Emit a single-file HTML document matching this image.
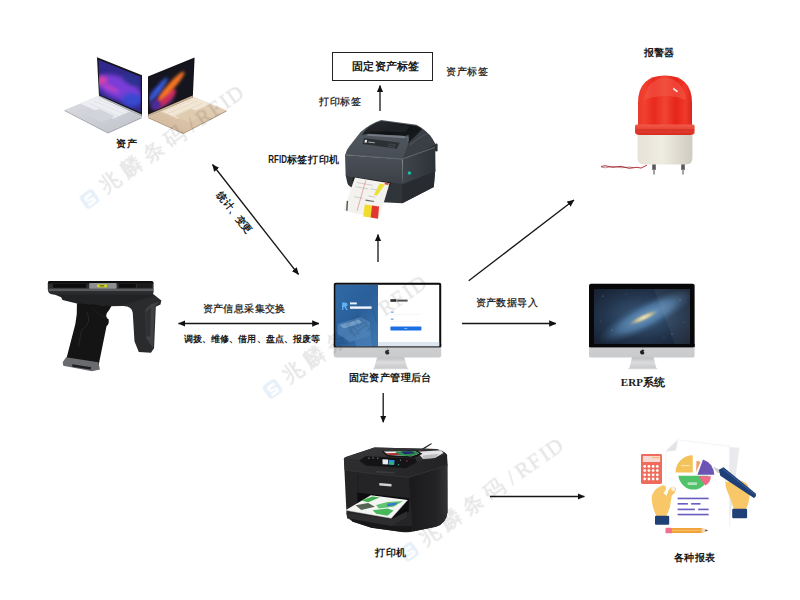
<!DOCTYPE html>
<html><head><meta charset="utf-8">
<style>
html,body{margin:0;padding:0;background:#fff;}
body{width:800px;height:600px;overflow:hidden;font-family:"Liberation Sans",sans-serif;}
svg{display:block;}
text{font-family:"Liberation Sans",sans-serif;fill:#1a1a1a;}
.b{font-weight:bold;}
.r{stroke:#1a1a1a;stroke-width:.25px;}
.wm{font-family:"Liberation Serif",serif;fill:#808080;stroke:#808080;stroke-width:.45px;opacity:.2;font-size:21px;}
</style></head><body>
<svg width="800" height="600" viewBox="0 0 800 600">
<defs>
<marker id="ah" markerWidth="7.2" markerHeight="6.4" refX="6.8" refY="3.2" orient="auto-start-reverse" markerUnits="userSpaceOnUse"><path d="M0,0 L7.2,3.2 L0,6.4 Z" fill="#111"/></marker>
</defs>
<rect width="800" height="600" fill="#fff"/>

<!-- WATERMARKS -->


<!-- ARROWS -->
<g stroke="#151515" stroke-width="1.3" fill="none">
<line x1="212.5" y1="164.5" x2="298.5" y2="274.5" marker-start="url(#ah)" marker-end="url(#ah)"/>
<line x1="178.5" y1="323.5" x2="319" y2="323.5" marker-start="url(#ah)" marker-end="url(#ah)"/>
<line x1="380" y1="111" x2="380" y2="85.5" marker-end="url(#ah)"/>
<line x1="378" y1="262" x2="378" y2="234.5" marker-end="url(#ah)"/>
<line x1="468.7" y1="280.8" x2="574" y2="200" marker-end="url(#ah)"/>
<line x1="462" y1="323.5" x2="556" y2="323.5" marker-end="url(#ah)"/>
<line x1="383.2" y1="393" x2="383.2" y2="422.3" marker-end="url(#ah)"/>
<line x1="490" y1="496.5" x2="584.4" y2="496.5" marker-end="url(#ah)"/>
</g>

<!-- LABEL BOX -->
<rect x="332.5" y="52.5" width="100" height="28" fill="#fff" stroke="#222" stroke-width="1"/>

<!-- TEXT -->
<g font-size="10.4px">
<text class="b" x="115.9" y="147.3" textLength="20.8">资产</text>
<text class="b" x="352.1" y="70.2" font-size="11.2px" textLength="67">固定资产标签</text>
<text class="r" x="445.9" y="75.2" textLength="42">资产标签</text>
<text class="r" x="319.2" y="104.7" textLength="41.3">打印标签</text>
<text class="b" x="268.3" y="163.2"><tspan textLength="18.6" lengthAdjust="spacingAndGlyphs">RFID</tspan><tspan textLength="52.2">标签打印机</tspan></text>
<text class="b" x="644.2" y="55.5" font-size="10px" textLength="30.2">报警器</text>
<text class="r" x="202.6" y="311.9" textLength="82.8">资产信息采集交换</text>
<text class="b" x="183.6" y="342" font-size="9.1px" textLength="136.7">调拨、维修、借用、盘点、报废等</text>
<text class="r" x="475.5" y="306.2" textLength="62.1">资产数据导入</text>
<text class="b" x="348.6" y="380.8" textLength="82.8">固定资产管理后台</text>
<text class="b" x="620.8" y="385.6" font-size="11px" textLength="44.5" style="font-family:'Liberation Serif',serif">ERP系统</text>
<text class="b" x="375.2" y="555.6" font-size="10.2px" textLength="30.8">打印机</text>
<text class="b" x="673.6" y="560.6" textLength="41.8">各种报表</text>
<text class="b" transform="translate(234.5,212.5) rotate(52)" text-anchor="middle" y="3.5" font-size="10px">统计、变更</text>
</g>

<!-- LAPTOPS -->
<g id="laptops">
<defs>
<linearGradient id="silv" x1="0" y1="0" x2="1" y2="1"><stop offset="0" stop-color="#dddee4"/><stop offset="1" stop-color="#bfc1c9"/></linearGradient>
<linearGradient id="gold" x1="1" y1="0" x2="0" y2="1"><stop offset="0" stop-color="#e8d6be"/><stop offset="1" stop-color="#cfb597"/></linearGradient>
<clipPath id="ls1"><polygon points="98.6,59.8 140.7,76.8 140.7,112.6 99.4,94.6"/></clipPath>
<clipPath id="ls2"><polygon points="193.2,59.6 149.2,77.6 149.2,113 192.4,94.6"/></clipPath>
<filter id="bl2" x="-50%" y="-50%" width="200%" height="200%"><feGaussianBlur stdDeviation="2.2"/></filter>
<filter id="bl3" x="-50%" y="-50%" width="200%" height="200%"><feGaussianBlur stdDeviation="1.6"/></filter>
</defs>
<!-- left silver -->
<polygon points="97.7,96.3 64.5,110 108,132.3 141.8,117" fill="url(#silv)"/>
<polygon points="64.5,110 108,132.3 141.8,117 141.8,118.3 108,133.6 64.5,111" fill="#a4a6ae"/>
<polygon points="80,103.6 99,96 133,110 113,118.8" fill="#eceef2"/>
<g stroke="#d4d6dc" stroke-width=".5"><line x1="84" y1="105.4" x2="117" y2="120"/><line x1="89" y1="103.2" x2="122" y2="117.6"/><line x1="94" y1="101" x2="127" y2="115.2"/><line x1="98" y1="99" x2="131" y2="113"/></g>
<polygon points="86,114.4 99,108.8 115,116.2 102,122.2" fill="#d2d4db"/>
<polygon points="97,57.2 142,75.2 142,116.6 99,96.5" fill="#15151c"/>
<g clip-path="url(#ls1)">
<rect x="95" y="55" width="50" height="60" fill="#30288a"/>
<ellipse cx="119" cy="88" rx="24" ry="11" fill="#7a3cd8" filter="url(#bl2)" transform="rotate(22 119 87)"/>
<ellipse cx="102" cy="80.5" rx="5" ry="4.5" fill="#e040a0" filter="url(#bl2)"/>
<ellipse cx="111" cy="88" rx="9" ry="3" fill="#b040c8" filter="url(#bl3)" transform="rotate(24 110 88)"/>
<ellipse cx="132" cy="100" rx="10" ry="7" fill="#3848d0" filter="url(#bl2)"/>
<ellipse cx="132" cy="80" rx="9" ry="5" fill="#2c3090" filter="url(#bl2)" transform="rotate(22 132 80)"/>
</g>
<polygon points="99.1,95.4 141.8,114.4 141.8,116.6 99,96.8" fill="#b4b6be"/>
<!-- right gold -->
<polygon points="193.2,96.8 226.5,110.3 183.3,132.8 148.2,117" fill="url(#gold)"/>
<polygon points="226.5,110.3 183.3,132.8 148.2,117 148.2,118.3 183.3,134.1 226.5,111.4" fill="#b39a7c"/>
<polygon points="192,96.8 211,104 178,118.8 158,110" fill="#f2e6d5"/>
<g stroke="#dfccb2" stroke-width=".5"><line x1="207" y1="105.6" x2="174" y2="120"/><line x1="202" y1="103.4" x2="169" y2="117.6"/><line x1="197" y1="101.2" x2="164" y2="115.2"/><line x1="193" y1="99.2" x2="160" y2="113"/></g>
<polygon points="191,108.8 205,114.4 189,122.2 175,116.2" fill="#dfcbb0"/>
<polygon points="194.6,57.6 148,76.4 148,116.6 192.8,97.2" fill="#121218"/>
<g clip-path="url(#ls2)">
<rect x="146" y="55" width="50" height="62" fill="#15151f"/>
<ellipse cx="160" cy="100" rx="14" ry="12" fill="#2a2250" filter="url(#bl2)"/>
<ellipse cx="158" cy="90" rx="3" ry="15" fill="#3458d8" filter="url(#bl3)" transform="rotate(38 158.5 90)"/>
<ellipse cx="165" cy="99" rx="5" ry="14" fill="#c82c60" filter="url(#bl3)" transform="rotate(48 165 99)"/>
<ellipse cx="156" cy="105" rx="5" ry="5" fill="#4a2c98" filter="url(#bl3)"/>
<ellipse cx="171" cy="85" rx="3.4" ry="19" fill="#f87424" filter="url(#bl3)" transform="rotate(42 170 86)"/>
</g>
<polygon points="192.6,95.4 148.2,114.6 148.2,116.8 192.8,97.4" fill="#c4ad90"/>
</g>
<!-- RFID PRINTER -->
<g id="rfidprinter">
<defs>
<linearGradient id="rp1" x1="0" y1="0" x2="0" y2="1"><stop offset="0" stop-color="#4b5158"/><stop offset="1" stop-color="#3a4046"/></linearGradient>
<linearGradient id="rp2" x1="0" y1="0" x2="1" y2="1"><stop offset="0" stop-color="#34383d"/><stop offset=".45" stop-color="#0f1113"/><stop offset="1" stop-color="#1d2023"/></linearGradient>
<linearGradient id="rp3" x1="0" y1="0" x2="1" y2="0"><stop offset="0" stop-color="#3f454b"/><stop offset="1" stop-color="#2d3237"/></linearGradient>
<linearGradient id="rp4" x1="0" y1="0" x2="0" y2="1"><stop offset="0" stop-color="#555b62"/><stop offset="1" stop-color="#474d54"/></linearGradient>
</defs>
<!-- hinge nub -->
<rect x="435" y="143.5" width="2.6" height="8" rx="1.2" fill="#2a2e32"/>
<!-- base -->
<path d="M345.7,175.4 L347.4,183.2 Q348.5,186.7 355.6,188.9 L382.5,202.3 L402.3,203.2 L433.8,187.0 L435.2,170.5 L402.3,182.5 Z" fill="#30353a"/>
<path d="M402.3,182.5 L435.2,170.5 L433.8,187.0 L402.3,203.2 Z" fill="#282c30"/>
<!-- upper shell right side -->
<path d="M402.5,159.4 L408.1,143.1 L421.9,129.0 Q430.0,132.5 435.2,144.0 L435.5,171.2 L402.3,184.2 Z" fill="url(#rp3)"/>
<!-- shell top (around lid) -->
<path d="M345.2,154.8 Q346.2,150.0 349.4,146.2 L360.6,131.9 Q370.0,123.8 381.2,120.0 L416.5,124.8 Q427.5,130.0 435.2,144.0 L402.5,159.4 Z" fill="url(#rp4)"/>
<!-- front face -->
<path d="M345.0,154.9 L402.3,159.3 L402.6,184.2 L345.7,176.1 Z" fill="url(#rp1)"/>
<path d="M415.6,125.2 Q427.5,130.0 435.2,144.0 L402.5,159.4 L408.5,143.2 L421.9,129.4 Z" fill="#3a3f45"/>
<path d="M410.0,145.0 Q420.0,136.2 427.5,133.8" fill="none" stroke="#4c5259" stroke-width="1.2"/>
<!-- ridge highlight -->
<path d="M345.1,154.7 L402.3,159.1 L434.9,147.4" fill="none" stroke="#626870" stroke-width="1"/>
<!-- black lid -->
<path d="M362.2,134.8 Q366.9,127.5 371.5,125.2 Q376.2,121.9 381.5,121.0 L415.6,125.8 Q420.0,127.2 421.9,129.4 L408.5,143.2 L405.0,136.0 L368.5,133.8 Z" fill="url(#rp2)"/>
<path d="M372.8,125.5 Q377.5,122.8 381.9,122.0 L410.0,126.0 L405.0,132.5 L370.0,131.0 Z" fill="#24272b" opacity=".7"/>
<!-- window highlight strip -->
<path d="M367.8,134.0 L405.0,136.0 L406.0,138.2 L367.0,135.8 Z" fill="#767c83"/>
<path d="M405.2,136.0 L408.5,135.0 L409.0,140.6 L407.8,142.8 Z" fill="#5c6168"/>
<!-- label sticker -->
<path d="M364.0,138.1 L399.8,142.8 L396.9,148.8 L362.5,144.0 Z" fill="#2b3035"/>
<path d="M365.0,139.8 l2.2,0.3 l-.6,2.6 l-2.2,-.3z" fill="#e8eaec"/>
<path d="M368.5,141.5 l6.5,.9 l-.1,.9 l-6.5,-.9z" fill="#b8bcc0"/>
<path d="M389.4,144.0 l5.5,.7 l-.8,2.4 l-5.5,-.7z" fill="none" stroke="#5a6068" stroke-width=".5"/>
<!-- LED -->
<circle cx="409.4" cy="173" r="2.3" fill="#2a5a58"/>
<circle cx="409.4" cy="173" r="1.6" fill="#20c4ac"/>
<!-- slot shadow -->
<path d="M353.5,177.1 L391.0,182.5 L389.6,186.7 L352.0,181.1 Z" fill="#16181b"/>
<!-- paper -->
<path d="M354.9,177.5 L389.6,183.2 L379.0,218.6 L343.5,210.8 Z" fill="#f4f2ee"/>
<path d="M379.7,183.6 L385.0,184.5 L377.1,195.5 L373.7,195.0 Z" fill="#ece03a"/>
<path d="M385.0,182.5 L389.0,183.2 L388.2,185.0 L384.5,184.2 Z" fill="#d8483c"/>
<path d="M364.8,204.4 L372.0,205.6 L370.6,217.6 L363.2,216.5 Z" fill="#f0dc2c"/>
<path d="M372.0,205.6 L379.1,206.6 L378.0,218.8 L370.6,217.6 Z" fill="#e0382f"/>
<g fill="none" stroke-width=".5">
<path d="M365.8,180.4 L357.0,210.8" stroke="#d46060"/>
<path d="M357.0,182.5 L372.6,185.3 M355.6,186.7 L368.3,189.0 M370.5,188.9 L376.8,189.9 M354.2,196.7 L362.7,198.4 M368.3,195.9 L375.4,197.2" stroke="#a8a8a8"/>
<path d="M347.4,200.9 L346.8,210.8" stroke="#555" stroke-width="1.4"/>
<path d="M365.5,200.1 L374.0,201.5" stroke="#666" stroke-width="1.2"/>
</g>
</g>
<!-- ALARM -->
<g id="alarm">
<defs>
<linearGradient id="al1" x1="0" y1="0" x2="1" y2="0"><stop offset="0" stop-color="#e83a2c"/><stop offset=".12" stop-color="#f2402f"/><stop offset=".3" stop-color="#e82a1e"/><stop offset=".5" stop-color="#f04434"/><stop offset=".7" stop-color="#e62518"/><stop offset=".88" stop-color="#f0392b"/><stop offset="1" stop-color="#d8261c"/></linearGradient>
<linearGradient id="al2" x1="0" y1="0" x2="1" y2="0"><stop offset="0" stop-color="#e6e2d6"/><stop offset=".45" stop-color="#efece2"/><stop offset="1" stop-color="#cfcbc0"/></linearGradient>
<linearGradient id="al3" x1="0" y1="0" x2="0" y2="1"><stop offset="0" stop-color="#f25a48"/><stop offset="1" stop-color="#d82a20"/></linearGradient>
</defs>
<path d="M601,166.5 q4,-1.5 8,0 t8,0.3 t8,0.5 t8,0.5 t8,0.3 l6,-3" fill="none" stroke="#b8323a" stroke-width="1"/>
<path d="M601.5,167.3 q4,1 8,-0.3 t8,0 t8,0.4 t8,0.3" fill="none" stroke="#7a2a2a" stroke-width=".5"/>
<rect x="652.2" y="162" width="3.6" height="8" fill="#5a5a5a"/><rect x="653.2" y="169" width="1.6" height="5.5" fill="#8a8a8a"/>
<rect x="681.2" y="162" width="3.6" height="8" fill="#5a5a5a"/><rect x="682.2" y="169" width="1.6" height="5.5" fill="#8a8a8a"/>
<path d="M637.6,132 H692.4 V158 Q692.4,164.5 686,164.5 H644 Q637.6,164.5 637.6,158 Z" fill="url(#al2)"/>
<path d="M638,126 V103 Q638,75.4 665,75.4 Q692,75.4 692,103 V126 Z" fill="url(#al1)"/>
<path d="M644,100 Q646,80 665,77.5 Q684,80 686,100 Q665,92 644,100Z" fill="#f45a48" opacity=".55"/>
<path d="M635,126 Q635,124.5 637,124.5 H693 Q694.6,124.5 694.6,126 V132 Q694.6,135 690,135 H640 Q635,135 635,132 Z" fill="url(#al3)"/>
<rect x="636" y="129.5" width="58" height="1" fill="#c02018" opacity=".6"/>
<path d="M673.5,87.5 l4.5,3.5 l-1,1.6 l-4.2,-3.4z" fill="#fff" opacity=".85"/>
</g>
<!-- SCANNER -->
<g id="scanner" transform="translate(40,272) scale(0.17334)">
<!-- arm / antenna -->
<path d="M400,140 L655,128 L700,165 L695,188 L668,200 L658,440 L640,466 L570,462 L545,400 L535,235 Q530,198 480,196 L400,198 Z" fill="#2a2b2d"/>
<path d="M608,215 L640,186 L688,172 L662,202 L652,438 L612,380 Z" fill="#404144"/>
<path d="M612,230 L640,205 L636,370 L614,372 Z" fill="#2f3033"/>
<!-- cradle -->
<path d="M60,120 L650,120 L655,140 L560,165 L520,180 L400,198 L230,186 L130,162 L122,145 Z" fill="#222325"/>
<!-- grip -->
<path d="M213,180 L412,196 Q402,218 386,236 Q374,262 396,272 Q400,300 384,312 L336,548 L148,516 L204,300 Q216,240 213,180 Z" fill="#141415"/>
<path d="M268,228 Q305,290 240,335 L222,430" fill="none" stroke="#2e2e31" stroke-width="4"/>
<path d="M300,205 Q350,260 388,262" fill="none" stroke="#2a2a2d" stroke-width="3"/>
<!-- base plate -->
<path d="M150,492 L336,520 L346,562 L300,573 L134,541 L131,520 Z" fill="#6a6b6e"/>
<path d="M186,532 L296,549 L292,562 L186,546 Z" fill="#1e1e20"/>
<!-- device bar -->
<path d="M58,52 H638 Q655,52 655,68 V118 Q655,130 640,130 H75 Q45,128 45,100 V66 Q45,52 58,52 Z" fill="#2b2c2e"/>
<path d="M58,52 H638 Q655,52 655,66 H45 Q45,52 58,52Z" fill="#0e0e0f"/>
<rect x="50" y="96" width="603" height="14" fill="#5a5b5e"/>
<rect x="75" y="69" width="192" height="22" rx="3" fill="#0c0c0d"/>
<rect x="455" y="69" width="98" height="22" rx="3" fill="#0c0c0d"/>
<rect x="560" y="69" width="85" height="22" fill="#1a1a1c"/>
<rect x="284" y="64" width="158" height="32" rx="4" fill="#8e8f92"/>
<rect x="330" y="72" width="56" height="16" fill="#d6de10"/>
<rect x="345" y="77" width="26" height="6" fill="#4a4a10"/>
</g>
<!-- IMAC CENTER -->
<g id="imac1" transform="translate(310,270) scale(0.2)">
<defs>
<linearGradient id="im1" x1="0" y1="0" x2="0" y2="1"><stop offset="0" stop-color="#e9e9ea"/><stop offset="1" stop-color="#c9cacc"/></linearGradient>
<linearGradient id="im2" x1="0" y1="0" x2="0" y2="1"><stop offset="0" stop-color="#b9babc"/><stop offset=".5" stop-color="#dcdcde"/><stop offset="1" stop-color="#c4c5c7"/></linearGradient>
<linearGradient id="im3" x1="0" y1="0" x2="1" y2="1"><stop offset="0" stop-color="#2f6aa6"/><stop offset=".5" stop-color="#2a5f99"/><stop offset="1" stop-color="#3f78b0"/></linearGradient>
</defs>
<!-- stand -->
<path d="M337,430 H470 L486,490 Q486,495 478,495 H328 Q320,495 321,490 Z" fill="url(#im2)"/>
<rect x="316" y="489" width="176" height="7" rx="3" fill="#d4d5d7"/>
<!-- chin + body -->
<rect x="119" y="64" width="537" height="374" rx="10" fill="url(#im1)"/>
<rect x="119" y="64" width="537" height="322" rx="9" fill="#0d0d0f"/>
<rect x="119" y="370" width="537" height="16" fill="#0d0d0f"/>
<!-- screen -->
<rect x="129" y="74" width="517" height="307" fill="#ffffff"/>
<rect x="129" y="74" width="211" height="307" fill="url(#im3)"/>
<rect x="340" y="360" width="306" height="21" fill="#dde5ee"/>
<!-- blue panel content -->
<path d="M138,270 L250,235 L300,260 L300,330 L200,360 L138,320Z" fill="#5c8fc2" opacity=".55"/>
<path d="M150,275 L245,248 L262,262 L168,292Z" fill="#8fb6dc" opacity=".6"/>
<path d="M215,300 L300,270 L310,381 L230,381Z" fill="#4d82b8" opacity=".6"/>
<path d="M160,162 h16 q12,0 12,11 q0,9 -9,11 l10,16 h-8 l-9,-15 h-5 v15 h-7z" fill="#5fb0f0"/>
<rect x="200" y="162" width="34" height="10" fill="#e8f0f8"/>
<rect x="200" y="182" width="108" height="12" fill="#f2f6fa"/>
<!-- login panel -->
<rect x="402" y="146" width="30" height="13" fill="#2a2a2e"/>
<rect x="436" y="148" width="52" height="10" fill="#555"/>
<rect x="404" y="208" width="14" height="5" fill="#4a8ee0"/>
<rect x="402" y="222" width="155" height="1.5" fill="#e0e3e8"/>
<rect x="404" y="243" width="14" height="5" fill="#4a8ee0"/>
<rect x="402" y="257" width="155" height="1.5" fill="#e0e3e8"/>
<rect x="402" y="283" width="155" height="19" rx="3" fill="#1b6fe3"/>
<rect x="471" y="291" width="16" height="3" fill="#cfe0fa"/>
<!-- apple -->
<path d="M388,400 q6,-3 9,1 q-5,3 -4,8 q1,4 5,5 q-2,7 -7,8 q-3,0 -4,-1 q-2,1 -5,1 q-6,-3 -7,-11 q0,-9 8,-10 q3,0 5,-1z M389,392 q1,5 -4,7 q-1,-5 4,-7z" fill="#2a2a2c"/>
</g>
<!-- IMAC ERP -->
<g id="imac2" transform="translate(560,270) scale(0.2)">
<defs>
<radialGradient id="gx0" cx=".5" cy=".5" r=".75"><stop offset="0" stop-color="#3c5c7e"/><stop offset=".55" stop-color="#22344c"/><stop offset="1" stop-color="#141c2a"/></radialGradient>
<radialGradient id="gx1"><stop offset="0" stop-color="#7aa6cc" stop-opacity=".95"/><stop offset=".55" stop-color="#5684b0" stop-opacity=".7"/><stop offset="1" stop-color="#35587e" stop-opacity="0"/></radialGradient>
<radialGradient id="gx2"><stop offset="0" stop-color="#fff4cc"/><stop offset=".45" stop-color="#e6cf90" stop-opacity=".85"/><stop offset="1" stop-color="#b0a080" stop-opacity="0"/></radialGradient>
<clipPath id="scr2"><rect x="170" y="95" width="480" height="275"/></clipPath>
</defs>
<path d="M361,432 H467 L481,490 Q481,495 474,495 H353 Q346,495 347,490 Z" fill="url(#im2)"/>
<rect x="342" y="489" width="144" height="7" rx="3" fill="#d6d7d9"/>
<rect x="145" y="69" width="528" height="369" rx="11" fill="url(#im1)"/>
<rect x="145" y="69" width="528" height="317" rx="10" fill="#08080a"/>
<rect x="145" y="370" width="528" height="16" fill="#08080a"/>
<rect x="170" y="95" width="480" height="275" fill="url(#gx0)"/>
<g clip-path="url(#scr2)">
<ellipse cx="430" cy="232" rx="265" ry="72" fill="url(#gx1)" transform="rotate(-27 430 232)"/>
<ellipse cx="418" cy="238" rx="80" ry="19" fill="url(#gx2)" opacity=".85" transform="rotate(-25 418 238)"/>
<path d="M470,95 H650 V370 H575 Z" fill="#ffffff" opacity=".05"/>
<g fill="#cfe0f0"><circle cx="215" cy="130" r="2"/><circle cx="260" cy="300" r="2"/><circle cx="560" cy="320" r="2"/><circle cx="600" cy="150" r="2"/><circle cx="330" cy="120" r="1.6"/><circle cx="520" cy="335" r="1.6"/><circle cx="205" cy="255" r="1.6"/><circle cx="620" cy="260" r="1.6"/></g>
</g>
<path d="M413,400 q6,-3 9,1 q-5,3 -4,8 q1,4 5,5 q-2,7 -7,8 q-3,0 -4,-1 q-2,1 -5,1 q-6,-3 -7,-11 q0,-9 8,-10 q3,0 5,-1z M414,392 q1,5 -4,7 q-1,-5 4,-7z" fill="#1c1c1e"/>
</g>
<!-- CANON PRINTER -->
<g id="canon">
<defs>
<linearGradient id="cn1" x1="0" y1="0" x2="1" y2="0"><stop offset="0" stop-color="#2e2e30"/><stop offset="1" stop-color="#232325"/></linearGradient>
<linearGradient id="cn3" x1="0" y1="0" x2="1" y2="0"><stop offset="0" stop-color="#1a1a1c"/><stop offset=".7" stop-color="#232325"/><stop offset="1" stop-color="#333336"/></linearGradient>
<linearGradient id="cn2" x1="0" y1="0" x2="1" y2="1"><stop offset="0" stop-color="#38383b"/><stop offset="1" stop-color="#29292b"/></linearGradient>
</defs>
<!-- ADF support arm -->
<path d="M414.0,453.5 L431.1,443.3 L431.9,444.1 L415.9,454.3Z" fill="#1d1d1f"/>
<!-- silhouette body -->
<path d="M343.9,459.3 Q343.9,457.6 346.2,456.8 L374.4,447.4 L436.3,449.1 Q445.2,451.7 447.0,455.4 L447.5,512.0 Q446.6,523.3 435.9,526.7 L410.2,531.9 Q406.7,532.6 401.5,532.1 L371.4,527.7 L352.5,521.4 Q346.9,518.3 346.5,513.7 Z" fill="#242426"/>
<!-- right side -->
<path d="M408.8,477.4 L447.6,464.8 L447.5,512.0 Q446.6,523.3 435.9,526.7 L412.8,531.6 Z" fill="url(#cn3)"/>
<!-- lid front band -->
<path d="M343.9,458.2 L359.3,460.9 L366.1,465.9 L406.0,468.3 L417.0,462.3 L447.0,454.3 L447.6,465.0 L408.8,477.4 L357.9,471.9 L344.7,469.7 Z" fill="url(#cn1)"/>
<!-- top face -->
<path d="M344.1,457.9 L374.4,447.4 L436.3,449.1 Q444.5,451.3 446.7,454.3 L417.0,462.0 L406.0,468.2 L365.9,465.6 L359.3,460.6 Z" fill="url(#cn2)"/>
<!-- flatbed white paper -->
<path d="M417.0,451.8 L441.1,450.2 L443.4,452.9 L434.9,457.9 L422.8,458.7 Z" fill="#e4e4e6"/>
<path d="M422.5,455.4 L439.0,453.8 L434.9,457.9 L422.8,458.7 Z" fill="#bdbdc0"/>
<!-- ADF tray + paper -->
<path d="M381.3,451.3 L417.0,450.5 L422.5,453.8 L414.3,457.9 L387.5,456.5 Z" fill="#151517"/>
<path d="M383.7,451.6 L415.0,451.0 L419.1,453.5 L411.5,456.2 L388.8,455.1 Z" fill="#eef0ee"/>
<path d="M395.0,451.6 L415.0,451.0 L419.1,453.5 L411.5,456.2 L399.1,455.4 Z" fill="#2f8a50"/>
<path d="M400.5,451.6 L411.5,451.3 L415.0,453.2 L404.6,454.3 Z" fill="#1e2a6a"/>
<path d="M385.4,453.2 L397.8,452.9 L398.9,455.1 L388.8,455.1 Z" fill="#b03030"/>
<!-- control panel -->
<path d="M359.3,460.6 L365.6,456.2 L415.4,458.4 L417.0,462.0 L406.0,468.2 L365.9,465.6 Z" fill="#141416"/>
<path d="M381.3,458.4 L395.7,459.3 L395.0,465.6 L381.8,464.8 Z" fill="#0c0c0e"/>
<path d="M382.4,459.3 L388.1,459.5 L387.9,464.5 L382.6,464.2 Z" fill="#e8ecf0"/>
<path d="M388.7,459.7 L394.7,460.1 L394.2,465.0 L388.4,464.6 Z" fill="#2f8fd0"/>
<path d="M389.5,462.0 L393.9,462.3 L393.6,464.8 L389.2,464.5 Z" fill="#3ab070"/>
<circle cx="406.7" cy="460.9" r=".7" fill="#d04040"/><circle cx="398.5" cy="464.8" r=".7" fill="#30b080"/>
<circle cx="368.9" cy="458.2" r=".6" fill="#9a9a9e"/><circle cx="373.0" cy="457.9" r=".6" fill="#9a9a9e"/><circle cx="377.8" cy="458.2" r=".6" fill="#9a9a9e"/><circle cx="400.5" cy="460.1" r=".6" fill="#9a9a9e"/>
<!-- lid edge highlight -->
<path d="M344.7,469.7 L357.9,471.9 L408.8,477.4 L447.6,465.0" fill="none" stroke="#38383b" stroke-width=".7"/>
<path d="M357.9,471.9 L358.2,495.0" fill="none" stroke="#1a1a1c" stroke-width=".6"/>
<!-- feed handle -->
<path d="M376.0,470.8 L394.3,472.2 L394.2,473.6 L376.3,472.5 Z" fill="#3c3c40"/>
<!-- canon logo -->
<path d="M379.3,482.9 l12.2,1 l0,2.6 l-12.2,-1z" fill="#e6e6e8" opacity=".9"/>
<!-- output slot -->
<path d="M357.4,492.7 L409.3,498.3 L408.5,512.0 L392.7,519.0 L357.4,505.0 Z" fill="#0d0d0f"/>
<!-- paper -->
<path d="M345.5,510.2 L370.9,495.3 L407.6,500.1 L391.3,518.3 Z" fill="#f4f5f3"/>
<path d="M361.2,500.6 L372.6,496.6 L379.6,497.6 L368.2,502.2Z" fill="#3fae4e"/>
<path d="M355.6,505.3 L368.2,502.9 L374.9,506.7 L361.2,509.9Z" fill="#566456"/>
<path d="M376.1,505.0 L387.5,502.0 L403.2,501.1 L393.6,506.7 L378.7,508.5Z" fill="#62c470"/>
<path d="M387.5,503.6 L398.0,502.5 L395.3,505.3 L386.6,506.4Z" fill="#3a78c8"/>
<path d="M372.6,510.2 L387.5,508.5 L393.6,510.6 L387.5,515.8 L376.1,513.7Z" fill="#46b85a"/>
<path d="M345.5,510.2 L391.3,518.3 L407.6,500.1" fill="none" stroke="#c8c8c8" stroke-width=".5"/>
<!-- lower cassette -->
<path d="M346.5,513.0 L391.3,519.3 L407.1,511.3 L407.1,517.2 L391.3,526.0 L347.2,518.6 Z" fill="#2d2d30"/>
<path d="M352.1,521.4 L371.4,527.7 L401.5,531.7 L412.0,531.6 L412.0,526.0 L391.3,526.3 L352.1,519.0Z" fill="#18181a"/>
</g>
<!-- REPORTS -->
<g id="reports" transform="translate(620,430) scale(0.23324)">
<!-- back paper -->
<path d="M262,60 L512,76 L468,412 L240,380 Z" fill="#e9eaec"/>
<!-- front paper -->
<path d="M248,42 L470,70 L470,412 L196,392 L196,92 Z" fill="#ffffff"/>
<path d="M196,392 L196,92 L248,42 L470,70 L470,412" fill="none" stroke="#eceef0" stroke-width="3"/>
<path d="M196,92 L240,88 L248,42 Z" fill="#e2e4e8"/>
<!-- calculator -->
<rect x="90" y="103" width="90" height="128" rx="6" fill="#ef6b5b"/>
<rect x="98" y="111" width="74" height="26" rx="2" fill="#f7d9d3"/>
<rect x="138" y="116" width="30" height="5" fill="#f4b860"/>
<g fill="#fff">
<circle cx="106" cy="156" r="6"/><circle cx="124" cy="156" r="6"/><circle cx="142" cy="156" r="6"/><circle cx="160" cy="156" r="6"/>
<circle cx="106" cy="174" r="6"/><circle cx="124" cy="174" r="6"/><circle cx="142" cy="174" r="6"/><circle cx="160" cy="174" r="6"/>
<circle cx="106" cy="192" r="6"/><circle cx="124" cy="192" r="6"/><circle cx="142" cy="192" r="6"/><circle cx="160" cy="192" r="6"/>
<circle cx="106" cy="210" r="6"/><circle cx="124" cy="210" r="6"/><circle cx="142" cy="210" r="6"/><circle cx="160" cy="210" r="6"/>
</g>
<!-- pie -->
<path d="M312,182 L238,182 A74,74 0 0 1 312,108 Z" fill="#f3c25a"/>
<path d="M318,196 L380,196 A66,72 0 0 1 250,196 Z" fill="#52c26a"/>
<path d="M332,192 L356,126 A70,70 0 0 1 404,192 Z" fill="#6b54b4"/>
<path d="M336,198 L390,198 A56,50 0 0 1 366,238 Z" fill="#f06a86"/>
<path d="M326,180 L328,132 L346,136 Z" fill="#f0a070"/>
<rect x="262" y="150" width="36" height="5" fill="#fbe6b0"/>
<rect x="290" y="224" width="40" height="12" fill="#c8ecd0" opacity=".8"/>
<!-- text lines -->
<g fill="#6a5fc0">
<rect x="247" y="290" width="133" height="7"/>
<rect x="247" y="313" width="44" height="7"/><rect x="305" y="313" width="40" height="7"/>
<rect x="247" y="337" width="74" height="7"/><rect x="335" y="337" width="45" height="7"/>
<rect x="247" y="359" width="133" height="7"/>
</g>
<!-- left hand -->
<path d="M136,300 Q132,262 175,240 Q190,232 196,244 Q200,256 186,270 L200,282 Q206,255 220,244 Q238,238 240,256 Q236,272 222,282 L214,330 Q205,360 196,372 L158,372 Q140,340 136,300 Z" fill="#f7c768"/>
<ellipse cx="228" cy="252" rx="9" ry="11" fill="#fdf0dc"/>
<rect x="150" y="368" width="61" height="38" rx="5" fill="#1f3f77"/>
<!-- right hand -->
<path d="M452,212 Q470,196 486,206 L540,226 Q558,244 556,280 Q552,318 540,340 L488,340 Q478,300 462,268 Q448,236 452,212 Z" fill="#f7c768"/>
<ellipse cx="460" cy="214" rx="9" ry="10" fill="#fdf0dc"/>
<rect x="481" y="338" width="64" height="40" rx="5" fill="#1f3f77"/>
<!-- pen -->
<path d="M398,156 L430,170 L436,186 L416,182 Z" fill="#c9ccd4"/>
<path d="M424,170 L444,160 L582,272 Q586,286 574,292 L430,196 Z" fill="#1f3f77"/>
<path d="M440,166 L578,276" stroke="#3e62a8" stroke-width="4" fill="none"/>
<!-- pencil -->
<path d="M222,420 L350,420 L376,431 L350,442 L222,442 Z" fill="#f0a23c"/>
<path d="M350,420 L376,431 L350,442 Z" fill="#f2d8b0"/><path d="M366,427 L378,431 L366,435Z" fill="#4a4038"/>
<rect x="195" y="419" width="28" height="24" rx="5" fill="#f2708e"/>
<rect x="222" y="428" width="128" height="5" fill="#f7bd60"/>
</g>
<g id="wm" style="mix-blend-mode:multiply"><g transform="translate(89.5,199) rotate(-35)">
<rect x="-8" y="-8" width="16" height="16" rx="4" fill="#5b9bd8" opacity=".15"/>
<path d="M-4.5,-1.5 Q-4.5,-5 -1,-5 H4.5 V-2 H-1 Q-1.8,-2 -1.8,-1 Q-1.8,0 -1,0 H2 Q5,0 5,3 Q5,6 2,6 H-4.5 V3.2 H1.5 Q2.2,3.2 2.2,2.6 Q2.2,2 1.5,2 H-1.5 Q-4.5,2 -4.5,-1.5Z" fill="#fff" opacity=".9"/>
<text class="wm" text-anchor="middle" y="5.3" x="26.2 52.6 79 105.4 125.8 140.6 154.6 166.8 179">兆麟条码/RFID</text>
</g><g transform="translate(272.5,389) rotate(-35)">
<rect x="-8" y="-8" width="16" height="16" rx="4" fill="#5b9bd8" opacity=".15"/>
<path d="M-4.5,-1.5 Q-4.5,-5 -1,-5 H4.5 V-2 H-1 Q-1.8,-2 -1.8,-1 Q-1.8,0 -1,0 H2 Q5,0 5,3 Q5,6 2,6 H-4.5 V3.2 H1.5 Q2.2,3.2 2.2,2.6 Q2.2,2 1.5,2 H-1.5 Q-4.5,2 -4.5,-1.5Z" fill="#fff" opacity=".9"/>
<text class="wm" text-anchor="middle" y="5.3" x="26.2 52.6 79 105.4 125.8 140.6 154.6 166.8 179">兆麟条码/RFID</text>
</g><g transform="translate(409,551.7) rotate(-35)">
<rect x="-8" y="-8" width="16" height="16" rx="4" fill="#5b9bd8" opacity=".15"/>
<path d="M-4.5,-1.5 Q-4.5,-5 -1,-5 H4.5 V-2 H-1 Q-1.8,-2 -1.8,-1 Q-1.8,0 -1,0 H2 Q5,0 5,3 Q5,6 2,6 H-4.5 V3.2 H1.5 Q2.2,3.2 2.2,2.6 Q2.2,2 1.5,2 H-1.5 Q-4.5,2 -4.5,-1.5Z" fill="#fff" opacity=".9"/>
<text class="wm" text-anchor="middle" y="5.3" x="26.2 52.6 79 105.4 125.8 140.6 154.6 166.8 179">兆麟条码/RFID</text>
</g></g>
</svg>
</body></html>
